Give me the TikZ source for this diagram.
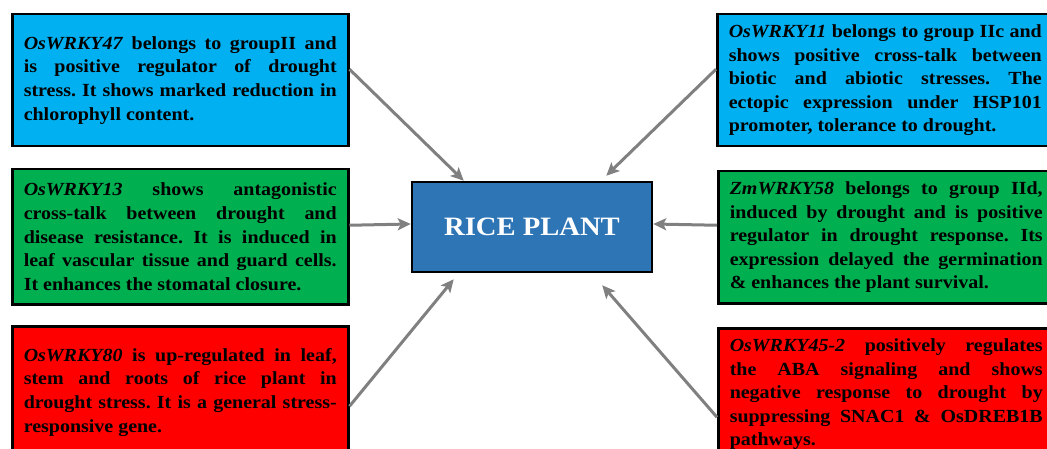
\documentclass[tikz,border=0pt]{standalone}
\usepackage{fontspec}
\setmainfont{Liberation Serif}[FakeStretch=1.08]
\usetikzlibrary{arrows.meta}
\definecolor{skyfill}{RGB}{0,176,240}
\definecolor{leaffill}{RGB}{0,176,80}
\definecolor{alarmfill}{RGB}{255,0,0}
\definecolor{ricefill}{RGB}{46,117,182}
\definecolor{arrowgray}{RGB}{128,128,128}
\hyphenpenalty=10000
\exhyphenpenalty=10000
\frenchspacing
\tikzset{
	infobox/.style={draw=black, line width=2.5pt, anchor=north west, minimum width=336pt, minimum height=132pt,
		text width=313pt, align=justify, inner sep=0pt,
		font=\fontsize{18.5}{23.6}\selectfont\bfseries},
	towards/.style={draw=arrowgray, line width=3pt, -{Stealth[length=13pt,width=12pt,inset=3pt]}}
}

\begin{document}
\begin{tikzpicture}[x=1pt, y=-1pt]
			%%%%% START %%%%%
			\useasboundingbox (0, 0) rectangle (1047, 449);
			\clip (0, 0) rectangle (1047, 449);
			
			% centre
			\node[draw=black, line width=2.5pt, fill=ricefill, minimum width=240pt, minimum height=90pt,
				text=white, font=\fontsize{26.5}{32}\selectfont\bfseries] (rice) at (532, 227) {RICE PLANT};
			
			% left column
			\node[infobox, fill=skyfill] (w47) at (11, 13)
				{\textit{OsWRKY47} belongs to groupII and\linebreak is positive regulator of drought\linebreak stress. It shows marked reduction in\linebreak chlorophyll content.};
			\node[infobox, fill=leaffill, minimum height=135pt] (w13) at (11, 168)
				{\textit{OsWRKY13} shows antagonistic\linebreak cross-talk between drought and\linebreak disease resistance. It is induced in\linebreak leaf vascular tissue and guard cells.\linebreak It enhances the stomatal closure.};
			\node[infobox, fill=alarmfill] (w80) at (11, 325)
				{\textit{OsWRKY80} is up-regulated in leaf,\linebreak stem and roots of rice plant in\linebreak drought stress. It is a general stress-\linebreak responsive gene.};
			
			% right column
			\node[infobox, fill=skyfill] (w11) at (716, 13)
				{\textit{OsWRKY11} belongs to group IIc and\linebreak shows positive cross-talk between\linebreak biotic and abiotic stresses. The\linebreak ectopic expression under HSP101\linebreak promoter, tolerance to drought.};
			\node[infobox, fill=leaffill] (w58) at (717, 170)
				{\textit{ZmWRKY58} belongs to group IId,\linebreak induced by drought and is positive\linebreak regulator in drought response. Its\linebreak expression delayed the germination\linebreak \& enhances the plant survival.};
			\node[infobox, fill=alarmfill] (w452) at (717, 327)
				{\textit{OsWRKY45-2} positively regulates\linebreak the ABA signaling and shows\linebreak negative response to drought by\linebreak suppressing SNAC1 \& OsDREB1B\linebreak pathways.};
			
			% arrows into the plant
			\draw[towards] ([yshift=11pt]w47.east) -- ([xshift=53pt]rice.north west);
			\draw[towards] ([yshift=11pt]w11.west) -- ([xshift=-47pt, yshift=5pt]rice.north east);
			\draw[towards] ([yshift=11.5pt]w13.east) -- ([yshift=3pt]rice.west);
			\draw[towards] ([yshift=12pt]w58.west) -- ([yshift=3pt]rice.east);
			\draw[towards] ([yshift=-14pt]w80.east) -- ([xshift=43pt, yshift=-6pt]rice.south west);
			\draw[towards] ([yshift=-23pt]w452.west) -- ([xshift=-51pt, yshift=-12pt]rice.south east);
			%%%%% END %%%%%
\end{tikzpicture}
\end{document}
